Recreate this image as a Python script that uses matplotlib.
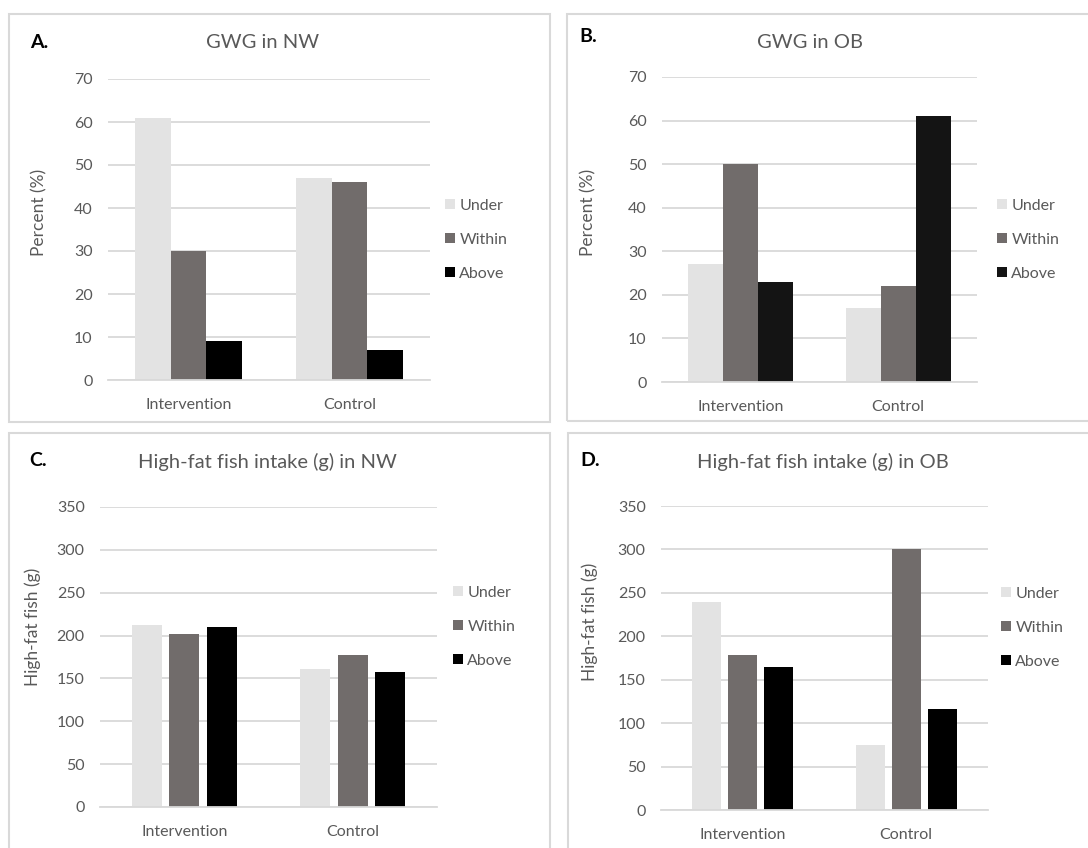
import matplotlib
matplotlib.use("Agg")
import matplotlib.pyplot as plt
from matplotlib.patches import Rectangle
import numpy as np

plt.rcParams['font.family'] = ['Lato', 'DejaVu Sans']

groups = ["Intervention", "Control"]
series = ["Under", "Within", "Above"]

gwg_nw_under = [61, 47]
gwg_nw_within = [30, 46]
gwg_nw_above = [9, 7]

gwg_ob_under = [27, 17]
gwg_ob_within = [50, 22]
gwg_ob_above = [23, 61]

fish_nw_under = [212, 161]
fish_nw_within = [202, 177]
fish_nw_above = [210, 157]

fish_ob_under = [240, 75]
fish_ob_within = [179, 300]
fish_ob_above = [165, 116]

gwg_ticks = [0, 10, 20, 30, 40, 50, 60, 70]
fish_ticks = [0, 50, 100, 150, 200, 250, 300, 350]

W, H = 1088, 848
fig = plt.figure(figsize=(W / 100, H / 100), dpi=100)
fig.patch.set_facecolor('white')

TXT = '#595959'
GRID = '#d9d9d9'
colors = ['#e3e3e3', '#716c6b', '#000000']


def fx(px):
    return px / W


def fy(py):
    return 1 - py / H


def border(x0, y0, x1, y1):
    fig.add_artist(Rectangle((fx(x0), fy(y1)), fx(x1 - x0), (y1 - y0) / H,
                             transform=fig.transFigure, fill=False,
                             edgecolor=GRID, linewidth=1.5))


border(9, 14, 550, 422)
border(567, 14, 1100, 421)
border(9, 433, 550, 860)
border(568, 433, 1100, 860)

panels = [
    dict(box=(108, 79, 430, 380), data=[gwg_nw_under, gwg_nw_within, gwg_nw_above],
         ticks=gwg_ticks, width=0.22, step=0.22, title="GWG in NW", tpos=(263, 43),
         letter="A.", lpos=(30, 43), ylabel="Percent (%)", ypos=(39, 212),
         leg=(445, 240), above='#000000'),
    dict(box=(662, 77, 977, 382), data=[gwg_ob_under, gwg_ob_within, gwg_ob_above],
         ticks=gwg_ticks, width=0.222, step=0.222, title="GWG in OB", tpos=(810, 43),
         letter="B.", lpos=(579, 37), ylabel="Percent (%)", ypos=(588, 212),
         leg=(997, 240), above='#141414'),
    dict(box=(100, 507, 437, 807), data=[fish_nw_under, fish_nw_within, fish_nw_above],
         ticks=fish_ticks, width=0.178, step=0.222, title="High-fat fish intake (g) in NW",
         tpos=(267, 462), letter="C.", lpos=(29, 460), ylabel="High-fat fish (g)",
         ypos=(33, 627), leg=(453, 627), above='#000000'),
    dict(box=(661, 506, 988, 810), data=[fish_ob_under, fish_ob_within, fish_ob_above],
         ticks=fish_ticks, width=0.177, step=0.22, title="High-fat fish intake (g) in OB",
         tpos=(823, 462), letter="D.", lpos=(580, 461), ylabel="High-fat fish (g)",
         ypos=(590, 622), leg=(1001, 628), above='#000000'),
]

for p in panels:
    x0, y0, x1, y1 = p['box']
    ax = fig.add_axes([fx(x0), fy(y1), fx(x1 - x0), (y1 - y0) / H])
    x = np.arange(len(groups))
    cols = [colors[0], colors[1], p['above']]
    for i, (vals, name) in enumerate(zip(p['data'], series)):
        ax.bar(x + (i - 1) * p['step'], vals, width=p['width'], color=cols[i],
               label=name, zorder=3)
    ax.set_xlim(-0.5, 1.5)
    ax.set_ylim(p['ticks'][0], p['ticks'][-1])
    ax.set_yticks(p['ticks'])
    ax.set_xticks(x)
    ax.set_xticklabels(groups)
    ax.yaxis.grid(True, color=GRID, linewidth=1.3, zorder=0)
    ax.set_axisbelow(True)
    for s in ['top', 'right', 'left']:
        ax.spines[s].set_visible(False)
    ax.spines['bottom'].set_color(GRID)
    ax.spines['bottom'].set_linewidth(1.3)
    ax.spines['bottom'].set_zorder(4)
    ax.tick_params(axis='both', length=0, colors=TXT, labelsize=11.5)
    ax.tick_params(axis='y', pad=11)
    ax.tick_params(axis='x', pad=13)
    lx, ly = p['leg']
    bx = (lx - x0) / (x1 - x0)
    by = (y1 - ly) / (y1 - y0)
    leg = ax.legend(loc='center left', bbox_to_anchor=(bx, by), frameon=False,
                    borderpad=0, borderaxespad=0, handlelength=0.6, handleheight=0.6,
                    handletextpad=0.3, labelspacing=1.25, fontsize=11.5)
    for t in leg.get_texts():
        t.set_color(TXT)
    tx, ty = p['tpos']
    fig.text(fx(tx), fy(ty), p['title'], ha='center', va='center', fontsize=14.5, color=TXT)
    lx2, ly2 = p['lpos']
    fig.text(fx(lx2), fy(ly2), p['letter'], ha='left', va='center', fontsize=14,
             fontweight='bold', color='black')
    yx, yy = p['ypos']
    fig.text(fx(yx), fy(yy), p['ylabel'], ha='center', va='center', rotation=90,
             fontsize=12.5, color=TXT)

fig.savefig('out.png', dpi=100, facecolor='white')
